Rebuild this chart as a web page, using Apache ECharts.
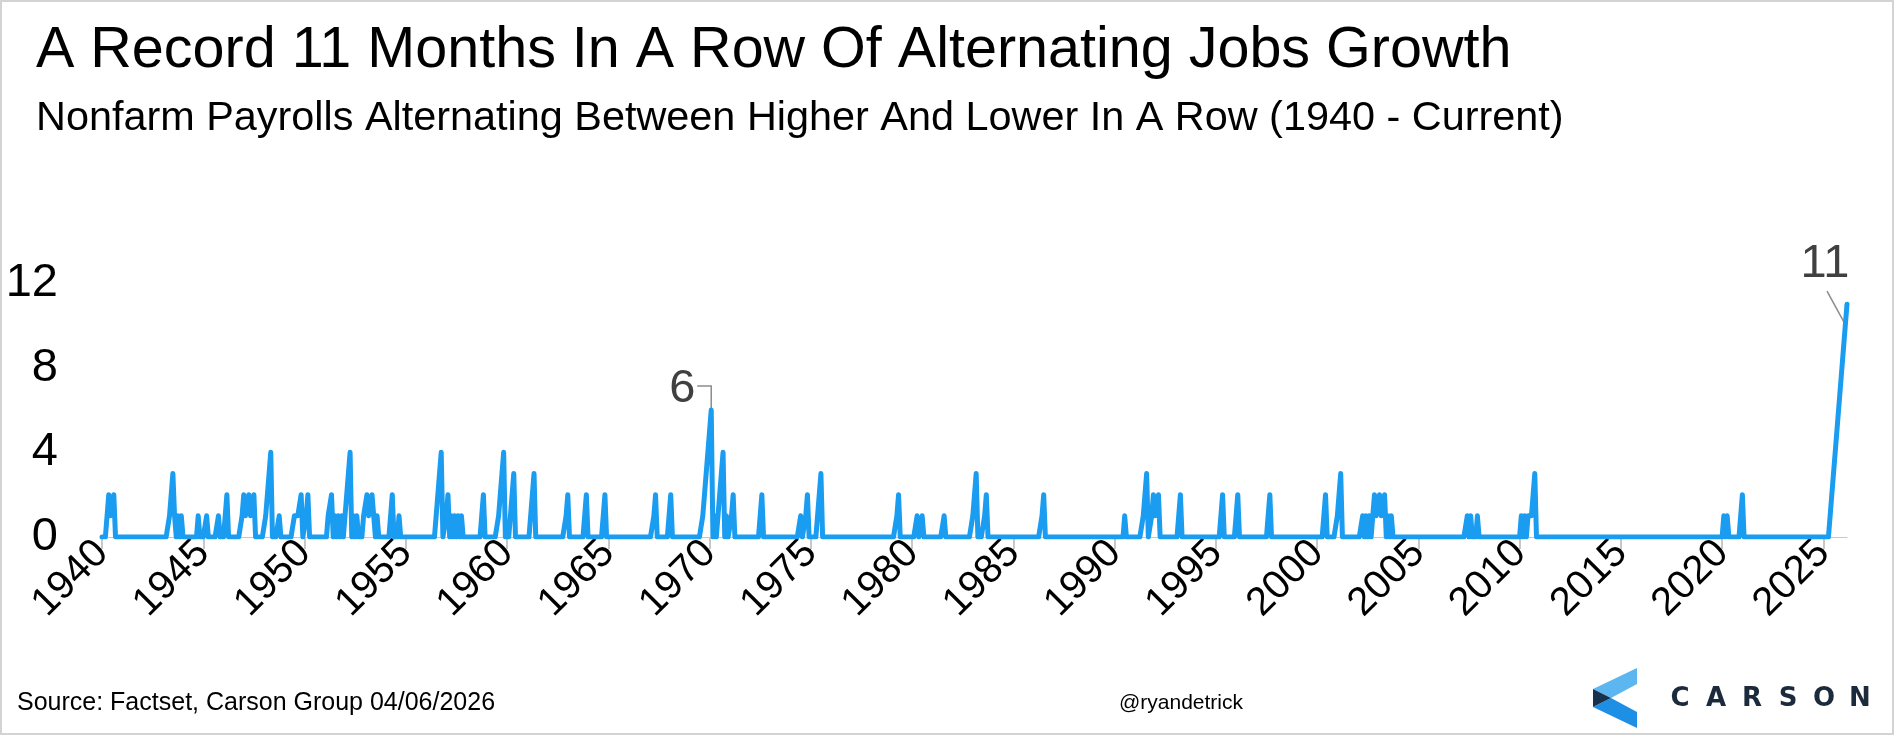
<!DOCTYPE html>
<html><head><meta charset="utf-8">
<script src="https://cdn.jsdelivr.net/npm/echarts@6/dist/echarts.min.js"></script>
<style>html,body{margin:0;padding:0;background:#fff;}#c{width:1894px;height:735px;}</style>
</head><body><div id="c"></div>
<script>
// ---------- texts ----------
const titleText = 'A Record 11 Months In A Row Of Alternating Jobs Growth';
const subtitleText = 'Nonfarm Payrolls Alternating Between Higher And Lower In A Row (1940 - Current)';
const sourceText = 'Source: Factset, Carson Group 04/06/2026';
const handleText = '@ryandetrick';
const logoText = 'CARSON';

// ---------- axis ----------
const firstMonth = '1940-01';
const lastMonth = '2026-03';
const yTicks = [0, 4, 8, 12];
const xLabelEveryYears = 5;

// ---------- data: months with a non-zero streak (all other months are 0) ----------
const spikeMonths = [
 '1940-04','1940-05','1940-06','1940-07','1940-08',
 '1943-05','1943-06','1943-07','1943-08','1943-10','1943-12',
 '1944-10','1945-03','1945-10','1946-02','1946-03',
 '1946-12','1947-01','1947-02','1947-03','1947-04','1947-05','1947-06','1947-07',
 '1948-02','1948-03','1948-04','1948-05','1948-10',
 '1949-07','1949-08','1949-09','1949-10','1949-11','1950-02','1950-03',
 '1951-03','1951-04','1951-05','1951-07','1951-09','1951-11','1952-01','1952-02','1952-03','1952-04','1952-06','1952-08',
 '1952-12','1953-01','1953-02','1953-03','1953-04','1953-05','1953-06','1953-08',
 '1954-04','1954-05','1954-09',
 '1956-07','1956-08','1956-09','1956-10','1957-01','1957-02','1957-04','1957-06','1957-08','1957-10',
 '1958-10','1958-11',
 '1959-08','1959-09','1959-10','1959-11','1960-03','1960-04','1960-05',
 '1961-03','1961-04','1961-05',
 '1962-12','1963-01','1963-11','1963-12','1964-10','1964-11',
 '1967-04','1967-05','1968-01','1968-02',
 '1969-09','1969-10','1969-11','1969-12','1970-01','1970-02',
 '1970-04','1970-06','1970-07','1970-08','1970-09','1970-11','1971-02','1971-03',
 '1972-07','1972-08','1974-07','1974-10','1974-11','1975-05','1975-06','1975-07',
 '1979-04','1979-05','1980-04','1980-07','1981-08',
 '1983-01','1983-02','1983-03','1983-08','1983-09',
 '1986-06','1986-07','1990-07',
 '1991-06','1991-07','1991-08','1991-11','1991-12','1992-01','1992-02','1992-03',
 '1993-03','1993-04','1995-04','1995-05','1996-01','1996-02','1997-08','1997-09',
 '2000-05','2000-06','2001-01','2001-02','2001-03',
 '2002-04','2002-06','2002-08','2002-10','2002-11','2002-12','2003-01','2003-02','2003-03','2003-04','2003-05','2003-07','2003-09',
 '2007-06','2007-08','2007-12',
 '2010-02','2010-04','2010-06','2010-07','2010-08','2010-09','2010-10',
 '2020-02','2020-04','2020-12','2021-01',
 '2025-05','2025-06','2025-07','2025-08','2025-09','2025-10','2025-11','2025-12','2026-01','2026-02','2026-03'
];
const spikeValues = [
 1,2,1,1,2,
 1,2,3,1,1,1,
 1,1,1,1,2,
 1,2,1,1,2,1,1,2,
 1,2,3,4,1,
 1,1,1,1,2,1,2,
 1,1,2,1,1,1,1,2,3,4,1,1,
 1,1,2,1,1,2,1,1,
 1,2,1,
 1,2,3,4,1,2,1,1,1,1,
 1,2,
 1,2,3,4,1,2,3,
 1,2,3,
 1,2,1,2,1,2,
 1,2,1,2,
 1,2,3,4,5,6,
 1,1,2,3,4,1,1,2,
 1,2,1,1,2,1,2,3,
 1,2,1,1,1,
 1,2,3,1,2,
 1,2,1,
 1,2,3,1,2,1,1,2,
 1,2,1,2,1,2,1,2,
 1,2,1,2,3,
 1,1,1,1,2,1,1,2,1,1,2,1,1,
 1,1,1,
 1,1,1,1,1,2,3,
 1,1,1,2,
 1,2,3,4,5,6,7,8,9,10,11
];
// annotated points
const callouts = [ { month: '1970-02', text: '6', dx: -29, dy: -21, kind: 'elbow' },
                   { month: '2026-03', text: '11', dx: -22, dy: -40, kind: 'slant' } ];

// ---------- build category list ----------
const months = [];
{
  let [y, m] = firstMonth.split('-').map(Number);
  const [ey, em] = lastMonth.split('-').map(Number);
  while (y < ey || (y === ey && m <= em)) {
    months.push(y + '-' + String(m).padStart(2, '0'));
    m++; if (m > 12) { m = 1; y++; }
  }
}
const lookup = {};
spikeMonths.forEach((k, i) => { lookup[k] = spikeValues[i]; });
const values = months.map(k => (k in lookup ? lookup[k] : 0));

const FONT = '"Liberation Sans", Arial, sans-serif';
const isLabelIdx = (i) => i % (12 * xLabelEveryYears) === 0;

const chart = echarts.init(document.getElementById('c'), null, { renderer: 'canvas' });
chart.setOption({
  animation: false,
  backgroundColor: '#ffffff',
  grid: { left: 102, right: 47, top: 283, bottom: 198, containLabel: false },
  xAxis: {
    type: 'category', data: months, boundaryGap: false,
    axisLine: { show: true, lineStyle: { color: '#c8c8c8', width: 1 } },
    axisTick: { show: true, interval: (i) => isLabelIdx(i), length: 12, lineStyle: { color: '#c8c8c8', width: 2 } },
    axisLabel: { interval: (i) => isLabelIdx(i), rotate: 45, formatter: v => v.slice(0, 4),
      fontSize: 40, color: '#000', fontFamily: FONT, margin: 10 },
    splitLine: { show: false }
  },
  yAxis: {
    type: 'value', min: yTicks[0], max: yTicks[yTicks.length - 1], interval: yTicks[1] - yTicks[0],
    axisLine: { show: false }, axisTick: { show: false }, splitLine: { show: false },
    axisLabel: { fontSize: 47, color: '#000', fontFamily: FONT, margin: 44 }
  },
  series: [{
    type: 'line', data: values, showSymbol: false, symbol: 'none',
    lineStyle: { color: '#1a9cf0', width: 5, join: 'round', cap: 'round' },
    z: 3
  }]
});

// ---------- graphics (text, callouts, logo) ----------
const g = [];
g.push({ type: 'rect', shape: { x: 1, y: 1, width: 1892, height: 733 }, style: { fill: 'none', stroke: '#d3d3d3', lineWidth: 2 }, silent: true });
g.push({ type: 'text', x: 36, y: 51, style: { text: titleText, font: '57.5px ' + FONT, fill: '#000', textVerticalAlign: 'middle', verticalAlign: 'middle' } });
g.push({ type: 'text', x: 36, y: 119, style: { text: subtitleText, font: '41.4px ' + FONT, fill: '#000', textVerticalAlign: 'middle', verticalAlign: 'middle' } });
g.push({ type: 'text', x: 17, y: 703, style: { text: sourceText, font: '25px ' + FONT, fill: '#000', verticalAlign: 'middle', textVerticalAlign: 'middle' } });
g.push({ type: 'text', x: 1181, y: 703, style: { text: handleText, font: '21px ' + FONT, fill: '#000', align: 'center', textAlign: 'center', verticalAlign: 'middle', textVerticalAlign: 'middle' } });

callouts.forEach(c => {
  const idx = months.indexOf(c.month);
  const p = chart.convertToPixel({ seriesIndex: 0 }, [idx, values[idx]]);
  const tx = p[0] + c.dx, ty = p[1] + c.dy;
  g.push({ type: 'text', x: tx, y: ty, style: { text: c.text, font: '47px ' + FONT, fill: '#404040', align: 'center', textAlign: 'center', verticalAlign: 'middle', textVerticalAlign: 'middle' } });
  let pts;
  if (c.kind === 'elbow') pts = [[tx + 15, ty - 3], [p[0], ty - 3], [p[0], p[1] - 2]];
  else pts = [[tx + 2, ty + 27], [p[0] - 3, p[1] + 18]];
  g.push({ type: 'polyline', shape: { points: pts }, style: { stroke: '#8c8c8c', lineWidth: 1.5, fill: 'none' } });
});

// logo
g.push({ type: 'polygon', shape: { points: [[1637, 668], [1637, 684], [1611, 698], [1593, 689]] }, style: { fill: '#5cb6f0' } });
g.push({ type: 'polygon', shape: { points: [[1611, 698], [1637, 712], [1637, 728], [1593, 707]] }, style: { fill: '#1d8fe4' } });
g.push({ type: 'polygon', shape: { points: [[1593, 689], [1611, 698], [1593, 707]] }, style: { fill: '#17324f' } });
logoText.split('').forEach((ch, i) => {
  g.push({ type: 'text', x: 1680 + i * 36, y: 699, style: { text: ch, font: 'bold 26px "DejaVu Sans", sans-serif', fill: '#1c2b3c', align: 'center', textAlign: 'center', verticalAlign: 'middle', textVerticalAlign: 'middle' } });
});

chart.setOption({ graphic: g });
</script>
</body></html>
